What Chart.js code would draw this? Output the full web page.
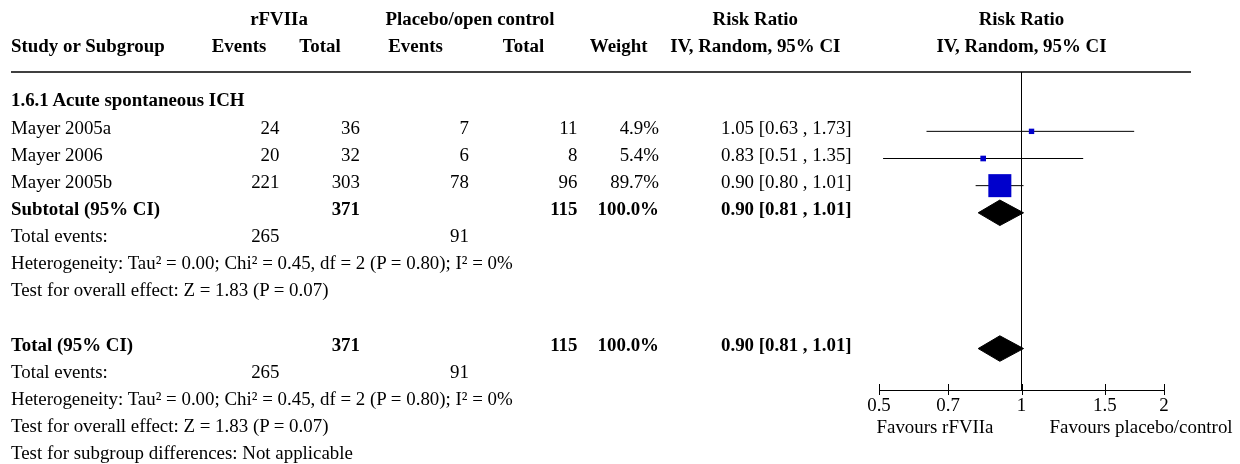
<!DOCTYPE html>
<html><head><meta charset="utf-8">
<script src="https://cdn.jsdelivr.net/npm/chart.js"></script>
<style>
html,body{margin:0;padding:0;background:#fff;}
#wrap{position:relative;width:1240px;height:464px;overflow:hidden;font-family:'Liberation Serif','Times New Roman',serif;font-size:18.9px;color:#000;}
#wrap canvas{position:absolute;left:0;top:0;}
.t{position:absolute;white-space:nowrap;line-height:18.9px;height:18.9px;}
.b{font-weight:bold;}
</style></head><body>
<div id="wrap"><canvas id="c" width="1240" height="464"></canvas></div>
<script>
// ---------------- data ----------------
const studies = ['Mayer 2005a', 'Mayer 2006', 'Mayer 2005b'];
const rfEvents = [24, 20, 221];
const rfTotal = [36, 32, 303];
const plEvents = [7, 6, 78];
const plTotal = [11, 8, 96];
const weights = [4.9, 5.4, 89.7];
const riskRatio = [1.05, 0.83, 0.90];
const ciLower = [0.63, 0.51, 0.80];
const ciUpper = [1.73, 1.35, 1.01];
const subgroupTitle = '1.6.1 Acute spontaneous ICH';
const pooledLabels = ['Subtotal (95% CI)', 'Total (95% CI)'];
const pooledRR = [0.90, 0.90];
const pooledLower = [0.81, 0.81];
const pooledUpper = [1.01, 1.01];
const pooledRfTotal = [371, 371];
const pooledPlTotal = [115, 115];
const pooledWeight = [100.0, 100.0];
const totalRfEvents = [265, 265];
const totalPlEvents = [91, 91];
const heterogeneity = 'Heterogeneity: Tau² = 0.00; Chi² = 0.45, df = 2 (P = 0.80); I² = 0%';
const overallEffect = 'Test for overall effect: Z = 1.83 (P = 0.07)';
const subgroupDiff = 'Test for subgroup differences: Not applicable';
const tickValues = [0.5, 0.7, 1, 1.5, 2];
const tickLabels = ['0.5', '0.7', '1', '1.5', '2'];
const favourLabels = ['Favours rFVIIa', 'Favours placebo/control'];
const headerTop = ['rFVIIa', 'Placebo/open control', 'Risk Ratio', 'Risk Ratio'];
const headerBottom = ['Study or Subgroup', 'Events', 'Total', 'Events', 'Total', 'Weight', 'IV, Random, 95% CI', 'IV, Random, 95% CI'];

// ---------------- layout ----------------
const W = 1240, H = 464, FS = 18.9;
const PLOT_LEFT = 879, PLOT_RIGHT = 1164, PLOT_TOP = 72, AXIS_Y = 390;
const ROW_PX = 27.15, ROW0_MARK = 104.2, TEXT_SHIFT = -3.4;
const DIAMOND_H = 0.47, SQUARE_K = 2.43;
const COL = {name: 11, rfE: 279.5, rfT: 360, plE: 469, plT: 577.5, w: 659, rr: 721};
const HEAD_X = {rf: 279, pl: 470, rr: 755.3, ev1: 239, tot1: 320, ev2: 415.5, tot2: 523.5, wt: 618.7};

const fmtCI = (e, l, u) => e.toFixed(2) + ' [' + l.toFixed(2) + ' , ' + u.toFixed(2) + ']';

// table rows (row index grows downward)
const rows = [];
let r = 0;
rows.push({r: r++, bold: true, name: subgroupTitle});
const studyRows = [];
studies.forEach((s, i) => {
  studyRows.push(r);
  rows.push({r: r++, name: s, rfE: rfEvents[i], rfT: rfTotal[i], plE: plEvents[i], plT: plTotal[i],
    w: weights[i].toFixed(1) + '%', rr: fmtCI(riskRatio[i], ciLower[i], ciUpper[i])});
});
const pooledRows = [];
pooledLabels.forEach((lab, k) => {
  if (k > 0) r++; // blank row
  pooledRows.push(r);
  rows.push({r: r++, bold: true, name: lab, rfT: pooledRfTotal[k], plT: pooledPlTotal[k],
    w: pooledWeight[k].toFixed(1) + '%', rr: fmtCI(pooledRR[k], pooledLower[k], pooledUpper[k])});
  rows.push({r: r++, name: 'Total events:', rfE: totalRfEvents[k], plE: totalPlEvents[k]});
  rows.push({r: r++, name: heterogeneity});
  rows.push({r: r++, name: overallEffect});
});
rows.push({r: r++, name: subgroupDiff});

// ---------------- datasets ----------------
const datasets = [];
studies.forEach((s, i) => {
  datasets.push({type: 'scatter', data: [{x: ciLower[i], y: studyRows[i]}, {x: ciUpper[i], y: studyRows[i]}],
    showLine: true, borderColor: '#000', borderWidth: 1, pointRadius: 0, order: 3});
});
datasets.push({type: 'scatter', data: studies.map((s, i) => ({x: riskRatio[i], y: studyRows[i]})),
  pointStyle: 'rect', pointRadius: weights.map(w => SQUARE_K * Math.sqrt(w) / Math.SQRT2),
  backgroundColor: '#0000cc', borderWidth: 0, order: 1});
pooledRR.forEach((v, k) => {
  const y = pooledRows[k];
  datasets.push({type: 'scatter', data: [
      {x: pooledLower[k], y}, {x: v, y: y - DIAMOND_H}, {x: pooledUpper[k], y}, {x: v, y: y + DIAMOND_H}, {x: pooledLower[k], y}],
    showLine: true, fill: 'shape', backgroundColor: '#000', borderColor: '#000', borderWidth: 1, pointRadius: 0, order: 2});
});

const decor = {
  id: 'decor',
  afterDraw(chart) {
    const {ctx, chartArea, scales: {x}} = chart;
    ctx.save();
    ctx.strokeStyle = '#000';
    ctx.lineWidth = 1.5;
    ctx.beginPath();
    ctx.moveTo(11, chartArea.top); ctx.lineTo(1191, chartArea.top);
    ctx.stroke();
    ctx.lineWidth = 1;
    ctx.beginPath();
    x.ticks.forEach(t => {
      const px = Math.round(x.getPixelForValue(t.value)) + 0.5;
      ctx.moveTo(px, chartArea.bottom - 6); ctx.lineTo(px, chartArea.bottom + 5);
    });
    ctx.stroke();
    ctx.restore();
  }
};

const yMin = (PLOT_TOP - ROW0_MARK) / ROW_PX;
const yMax = (AXIS_Y - ROW0_MARK) / ROW_PX;

const chart = new Chart(document.getElementById('c'), {
  type: 'scatter',
  data: {datasets},
  options: {
    responsive: false, animation: false, events: [],
    layout: {padding: {left: PLOT_LEFT, right: W - PLOT_RIGHT, top: PLOT_TOP, bottom: 0}},
    plugins: {legend: {display: false}, tooltip: {enabled: false}},
    scales: {
      x: {
        type: 'logarithmic', min: 0.5, max: 2, position: 'bottom',
        afterBuildTicks: s => { s.ticks = tickValues.map(v => ({value: v})); },
        afterFit: s => { s.height = H - AXIS_Y; },
        ticks: {callback: (v, i) => tickLabels[i], autoSkip: false, maxRotation: 0, minRotation: 0, padding: 5,
          color: '#000', font: {family: 'Liberation Serif', size: FS}},
        grid: {drawTicks: false, lineWidth: 1, color: c => (c.tick && c.tick.value === 1) ? '#000' : 'rgba(0,0,0,0)'},
        border: {display: true, color: '#000', width: 1}
      },
      y: {type: 'linear', display: false, reverse: true, min: yMin, max: yMax}
    }
  },
  plugins: [decor]
});

// ---------------- text ----------------
const wrap = document.getElementById('wrap');
const yS = chart.scales.y, xS = chart.scales.x;
const textY = row => yS.getPixelForValue(row) + TEXT_SHIFT;
function put(text, x, y, align, bold) {
  const el = document.createElement('div');
  el.className = 't' + (bold ? ' b' : '');
  el.textContent = text;
  el.style.top = (y - FS / 2) + 'px';
  if (align === 'left') el.style.left = x + 'px';
  else if (align === 'right') el.style.right = (W - x) + 'px';
  else { el.style.left = x + 'px'; el.style.transform = 'translateX(-50%)'; }
  wrap.appendChild(el);
}
const x1 = xS.getPixelForValue(1);
// headers
const hy1 = textY(-3), hy2 = textY(-2);
[HEAD_X.rf, HEAD_X.pl, HEAD_X.rr, x1].forEach((x, i) => put(headerTop[i], x, hy1, 'center', true));
put(headerBottom[0], COL.name, hy2, 'left', true);
[HEAD_X.ev1, HEAD_X.tot1, HEAD_X.ev2, HEAD_X.tot2, HEAD_X.wt, HEAD_X.rr, x1].forEach((x, i) =>
  put(headerBottom[i + 1], x, hy2, 'center', true));
// body
rows.forEach(row => {
  const y = textY(row.r), b = !!row.bold;
  if (row.name !== undefined) put(row.name, COL.name, y, 'left', b);
  if (row.rfE !== undefined) put(String(row.rfE), COL.rfE, y, 'right', b);
  if (row.rfT !== undefined) put(String(row.rfT), COL.rfT, y, 'right', b);
  if (row.plE !== undefined) put(String(row.plE), COL.plE, y, 'right', b);
  if (row.plT !== undefined) put(String(row.plT), COL.plT, y, 'right', b);
  if (row.w !== undefined) put(row.w, COL.w, y, 'right', b);
  if (row.rr !== undefined) put(row.rr, COL.rr, y, 'left', b);
});
// favour labels
const fy = AXIS_Y + 37;
put(favourLabels[0], x1 - 28, fy, 'right', false);
put(favourLabels[1], x1 + 28, fy, 'left', false);
</script>
</body></html>
